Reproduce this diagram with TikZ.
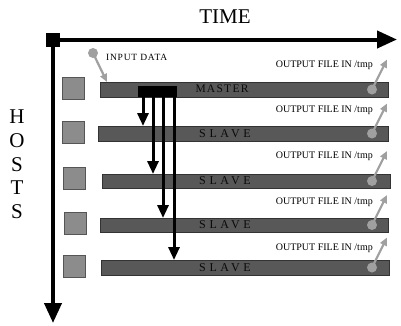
\documentclass[tikz,border=0pt]{standalone}
\usepackage{fontspec}
\setmainfont{Liberation Serif}
\usetikzlibrary{arrows.meta}
\definecolor{barfill}{HTML}{585858}
\definecolor{barline}{HTML}{333333}
\definecolor{barink}{HTML}{0A0A0A}
\definecolor{hostfill}{HTML}{8C8C8C}
\definecolor{hostline}{HTML}{555555}
\definecolor{ioink}{HTML}{A0A0A0}
\begin{document}
\begin{tikzpicture}[x=1pt,y=-1pt,
  axis/.style={line width=4pt,-{Triangle[length=20pt,width=17pt]}},
  bar/.style={draw=barline,fill=barfill,line width=0.8pt,inner sep=0pt,anchor=north west},
  host/.style={draw=hostline,fill=hostfill,line width=0.8pt,minimum size=22pt,inner sep=0pt,anchor=north west},
  masterfont/.style={font=\fontsize{11.5}{12}\selectfont\addfontfeature{LetterSpace=11},text=barink,inner sep=0pt},
  slavefont/.style={font=\fontsize{12}{12}\selectfont\addfontfeature{LetterSpace=30},text=barink,inner sep=0pt},
  send/.style={line width=3pt,-{Triangle[length=13pt,width=11pt]}},
  iodot/.style={circle,fill=ioink,minimum size=10pt,inner sep=0pt},
  io/.style={line width=2.2pt,draw=ioink,-{Triangle[length=8pt,width=7pt,fill=ioink]}},
  note/.style={font=\fontsize{10}{11}\selectfont,inner sep=0pt,anchor=base east},
  axislabel/.style={font=\fontsize{21}{24}\selectfont,inner sep=0pt}]
\useasboundingbox (0,0) rectangle (401,325);

% axes
\node[fill=black,minimum size=14pt,inner sep=0pt] (origin) at (53,39.5) {};
\coordinate (timeend) at (397,39.5);
\coordinate (hostend) at (53,323);
\draw[axis] (origin.center) -- (timeend);
\draw[axis] (origin.center) -- (hostend);
\node[axislabel,anchor=base] (time) at (225,23) {TIME};
\node[axislabel,anchor=north,align=center,font=\fontsize{21}{23.6}\selectfont] (hosts) at (17,110) {H\\O\\S\\T\\S};

% hosts
\node[host] (h1) at (62,77) {};
\node[host] (h2) at (62,121) {};
\node[host] (h3) at (63,167) {};
\node[host] (h4) at (64,211.5) {};
\node[host] (h5) at (63,254.5) {};

% timelines
\node[bar,minimum width=288pt,minimum height=15pt] (master) at (100,82) {};
\node[bar,minimum width=290pt,minimum height=15pt] (slave1) at (98,126) {};
\node[bar,minimum width=288pt,minimum height=14pt] (slave2) at (102,174) {};
\node[bar,minimum width=288pt,minimum height=14pt] (slave3) at (100,218) {};
\node[bar,minimum width=288pt,minimum height=15pt] (slave4) at (101,260) {};

\node[masterfont] (lm) at (222,89) {MASTER};
\node[slavefont] (l1) at (225,133.5) {SLAVE};
\node[slavefont] (l2) at (225,181) {SLAVE};
\node[slavefont] (l3) at (225,225) {SLAVE};
\node[slavefont] (l4) at (225,267.5) {SLAVE};

% distribution from the master
\coordinate (x1) at (143,0);
\coordinate (x2) at (153,0);
\coordinate (x3) at (163,0);
\coordinate (x4) at (174,0);
\node[fill=black,inner sep=0pt,minimum width=39pt,minimum height=11pt,anchor=north west] (block) at (138,86) {};
\draw[send] (block.center -| x1) -- (slave1.north -| x1);
\draw[send] (block.center -| x2) -- (slave2.north -| x2);
\draw[send] (block.center -| x3) -- (slave3.north -| x3);
\draw[send] (block.center -| x4) -- (slave4.north -| x4);

% input
\node[iodot] (indot) at (93,53) {};
\coordinate (intip) at (107,82);
\draw[io] (indot.center) -- (intip);
\node[font=\fontsize{9.5}{10}\selectfont\addfontfeature{LetterSpace=8},inner sep=0pt,anchor=base west] (input) at (106,60) {INPUT DATA};

% outputs
\foreach \b/\yc/\ly in {master/89.5/67, slave1/133.5/112.5, slave2/181/158.5, slave3/225/204.5, slave4/267.5/250}{
  \node[iodot] (\b dot) at (372,\yc) {};
  \coordinate (\b tip) at (387,\yc-30);
  \draw[io] (\b dot.center) -- (\b tip);
  \node[note] (\b out) at (373,\ly) {OUTPUT FILE IN /tmp};
}
\end{tikzpicture}
\end{document}
